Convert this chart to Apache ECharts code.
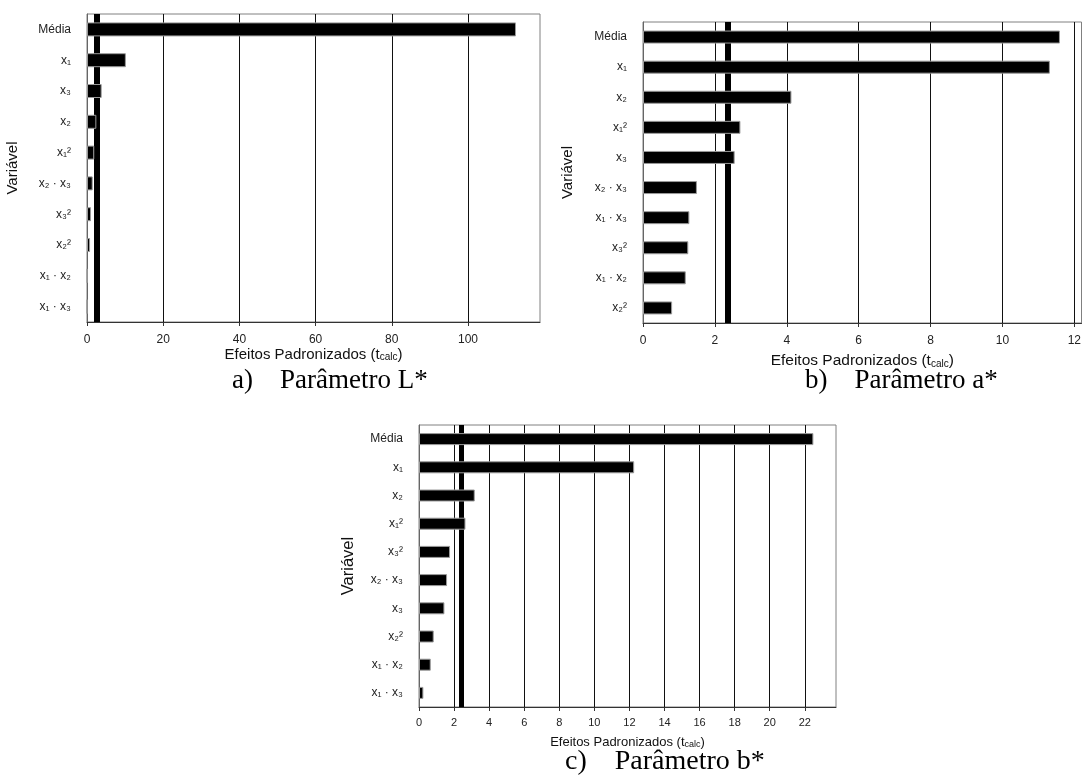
<!DOCTYPE html>
<html>
<head>
<meta charset="utf-8">
<script src="https://cdn.jsdelivr.net/npm/echarts@6/dist/echarts.min.js"></script>
<style>html,body{margin:0;padding:0;background:#fff;}#c{width:1084px;height:775px;}</style>
</head>
<body>
<div id="c"></div>
<script>
// Panel a) Parâmetro L*
const catA = ['Média', 'x₁', 'x₃', 'x₂', 'x₁²', 'x₂ · x₃', 'x₃²', 'x₂²', 'x₁ · x₂', 'x₁ · x₃'];
const valA = [112.6, 10.2, 3.85, 2.45, 1.9, 1.5, 1.05, 0.8, 0.05, 0.03];
const refA = 2.45;
const maxA = 118.9;
const tickA = 20;

// Panel b) Parâmetro a*
const catB = ['Média', 'x₁', 'x₂', 'x₁²', 'x₃', 'x₂ · x₃', 'x₁ · x₃', 'x₃²', 'x₁ · x₂', 'x₂²'];
const valB = [11.6, 11.32, 4.13, 2.71, 2.55, 1.50, 1.29, 1.26, 1.19, 0.81];
const refB = 2.35;
const maxB = 12.2;
const tickB = 2;

// Panel c) Parâmetro b*
const catC = ['Média', 'x₁', 'x₂', 'x₁²', 'x₃²', 'x₂ · x₃', 'x₃', 'x₂²', 'x₁ · x₂', 'x₁ · x₃'];
const valC = [22.49, 12.27, 3.18, 2.65, 1.77, 1.60, 1.45, 0.84, 0.67, 0.25];
const refC = 2.40;
const maxC = 23.78;
const tickC = 2;

const captions = ['a)    Parâmetro L*', 'b)    Parâmetro a*', 'c)    Parâmetro b*'];
const xName = 'Efeitos Padronizados (t{s|calc})';
const yName = 'Variável';

const FONT = '"Liberation Sans", Arial, sans-serif';
const SERIF = '"Liberation Serif", "Times New Roman", serif';

const grids = [
  {left: 87, top: 14, width: 453, height: 308},
  {left: 643, top: 22, width: 441, height: 301},
  {left: 419, top: 425, width: 417, height: 282}
];
const panels = [
  {cat: catA, val: valA, ref: refA, max: maxA, tick: tickA, bw: 14, lw: 6, nameGap: 25, nameFs: 15, subFs: 10, tickFs: 12, tickMargin: 12, yGap: 67, yFs: 15},
  {cat: catB, val: valB, ref: refB, max: maxB, tick: tickB, bw: 13, lw: 6, nameGap: 30, nameFs: 15.5, subFs: 10, tickFs: 12, tickMargin: 12, yGap: 68, yFs: 15},
  {cat: catC, val: valC, ref: refC, max: maxC, tick: tickC, bw: 12, lw: 5, nameGap: 29, nameFs: 13, subFs: 9, tickFs: 11, tickMargin: 10, yGap: 62, yFs: 16.5}
];

const option = {
  backgroundColor: '#fff',
  animation: false,
  grid: grids.map(g => Object.assign({show: true, borderColor: '#808080', borderWidth: 1, backgroundColor: 'transparent'}, g)),
  xAxis: panels.map((p, i) => ({
    type: 'value', gridIndex: i, min: 0, max: p.max, interval: p.tick,
    name: xName, nameLocation: 'middle', nameGap: p.nameGap,
    nameTextStyle: {fontFamily: FONT, fontSize: p.nameFs, color: '#111',
      rich: {s: {fontFamily: FONT, fontSize: p.subFs, color: '#111', verticalAlign: 'bottom', padding: [4, 0, 0, 0]}}},
    axisLine: {show: true, lineStyle: {color: '#333', width: 1}},
    axisTick: {show: true, length: 4, lineStyle: {color: '#333'}},
    axisLabel: {fontFamily: FONT, fontSize: p.tickFs, color: '#222', margin: p.tickMargin, showMaxLabel: false},
    splitLine: {show: true, showMinLine: false, showMaxLine: false, lineStyle: {color: '#111', width: 1}}
  })),
  yAxis: panels.map((p, i) => ({
    type: 'category', gridIndex: i, data: p.cat, inverse: true,
    name: yName, nameLocation: 'middle', nameGap: p.yGap,
    nameTextStyle: {fontFamily: FONT, fontSize: p.yFs, color: '#111'},
    axisLine: {show: true, lineStyle: {color: '#666'}},
    axisTick: {show: false},
    axisLabel: {fontFamily: FONT, fontSize: 12, color: '#222', margin: 16},
    splitLine: {show: false}
  })),
  series: [],
  graphic: [
    {type: 'text', left: 232, top: 367, style: {text: captions[0], font: '27px ' + SERIF, fill: '#000'}},
    {type: 'text', left: 805, top: 367, style: {text: captions[1], font: '27px ' + SERIF, fill: '#000'}},
    {type: 'text', left: 565, top: 748, style: {text: captions[2], font: '28px ' + SERIF, fill: '#000'}}
  ]
};

panels.forEach((p, i) => {
  option.series.push({
    type: 'line', xAxisIndex: i, yAxisIndex: i, data: [], z: 1, silent: true,
    markLine: {
      z: 1, silent: true, symbol: ['none', 'none'], label: {show: false},
      lineStyle: {type: 'solid', color: '#000', width: p.lw},
      emphasis: {disabled: true},
      data: [{xAxis: p.ref}]
    }
  });
  option.series.push({
    type: 'bar', xAxisIndex: i, yAxisIndex: i, data: p.val, z: 5,
    barWidth: p.bw,
    itemStyle: {color: '#000', borderColor: '#9a9a9a', borderWidth: 1}
  });
});

const chart = echarts.init(document.getElementById('c'), null, {renderer: 'canvas'});
chart.setOption(option);
</script>
</body>
</html>
